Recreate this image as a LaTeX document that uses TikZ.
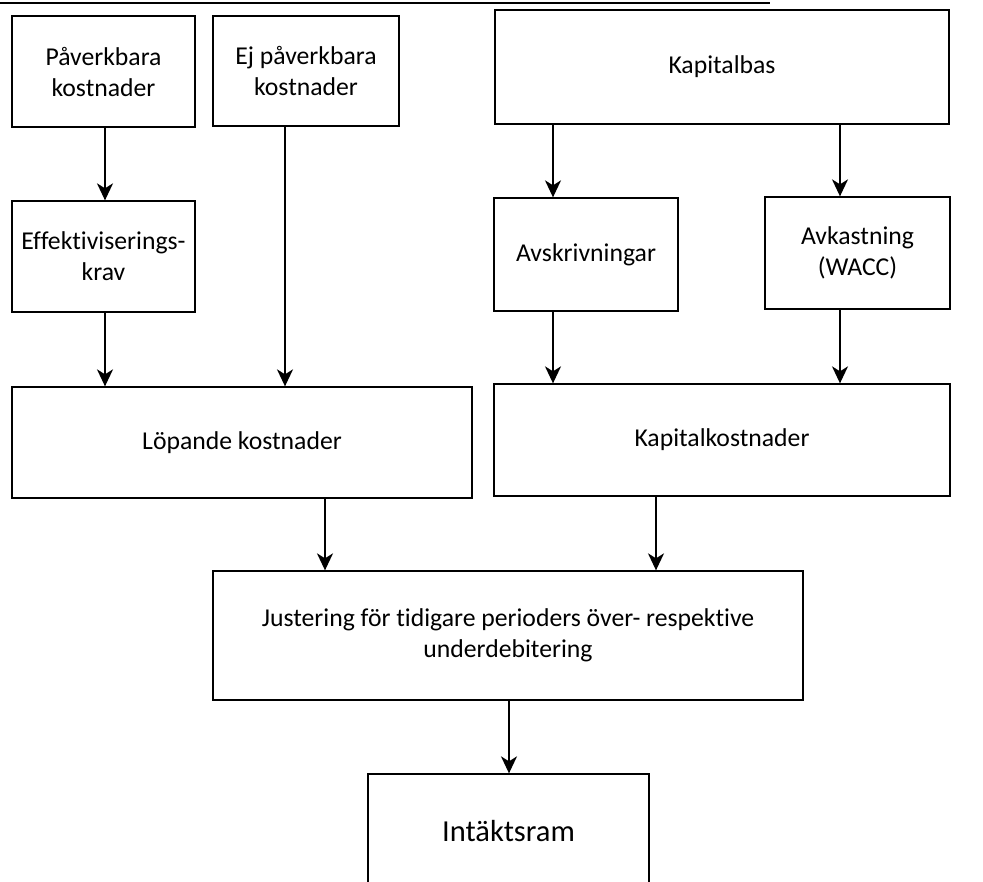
\documentclass[tikz,border=0pt]{standalone}
\usepackage{fontspec}
\setmainfont{Carlito}[Ligatures={NoCommon,NoRare}]
\usetikzlibrary{arrows.meta}
\tikzset{
  boxnode/.style={draw, line width=1.3pt, rectangle, inner sep=0pt, align=center,
    font=\fontsize{25.7}{31}\selectfont},
  arr/.style={line width=1.8pt, -{Stealth[length=17pt,width=16pt,inset=5pt]}},
}
\begin{document}
\begin{tikzpicture}[x=1pt,y=-1pt]
\fill[white] (0,0) rectangle (983,882);
\clip (0,0) rectangle (983,882);
\useasboundingbox (0,0) rectangle (983,882);
\draw[line width=1.2pt] (0,3) -- (770,3);

\node[boxnode, minimum width=183pt, minimum height=111pt] (b1) at (103.5,71.5) {Påverkbara\\kostnader};
\node[boxnode, minimum width=186pt, minimum height=110pt] (b2) at (306,71) {Ej påverkbara\\kostnader};
\node[boxnode, minimum width=454pt, minimum height=114pt] (kap) at (722,67) {Kapitalbas};
\node[boxnode, minimum width=183pt, minimum height=111pt] (eff) at (103.5,256.5) {Effektiviserings-\\krav};
\node[boxnode, minimum width=184pt, minimum height=113pt] (avs) at (586,254.5) {Avskrivningar};
\node[boxnode, minimum width=185pt, minimum height=112pt] (avk) at (857.5,253) {Avkastning\\(WACC)};
\node[boxnode, minimum width=460pt, minimum height=111pt] (lop) at (242,442.5) {Löpande kostnader};
\node[boxnode, minimum width=456pt, minimum height=112pt] (kapk) at (722,440) {Kapitalkostnader};
\node[boxnode, minimum width=590pt, minimum height=129pt] (just) at (508,635.5) {Justering för tidigare perioders över- respektive\\underdebitering};
\node[boxnode, minimum width=281pt, minimum height=114pt, font=\fontsize{30.5}{36}\selectfont] (int) at (508.5,831) {Intäktsram};

\coordinate (xa) at (105,0);
\coordinate (xb) at (285,0);
\coordinate (xc) at (553,0);
\coordinate (xd) at (840,0);
\coordinate (xe) at (325,0);
\coordinate (xf) at (656,0);
\coordinate (xg) at (509,0);

\draw[arr] (b1.south -| xa) -- (eff.north -| xa);
\draw[arr] (eff.south -| xa) -- (lop.north -| xa);
\draw[arr] (b2.south -| xb) -- (lop.north -| xb);
\draw[arr] (kap.south -| xc) -- (avs.north -| xc);
\draw[arr] (kap.south -| xd) -- (avk.north -| xd);
\draw[arr] (avs.south -| xc) -- (kapk.north -| xc);
\draw[arr] (avk.south -| xd) -- (kapk.north -| xd);
\draw[arr] (lop.south -| xe) -- (just.north -| xe);
\draw[arr] (kapk.south -| xf) -- (just.north -| xf);
\draw[arr] (just.south -| xg) -- (int.north -| xg);
\end{tikzpicture}
\end{document}
